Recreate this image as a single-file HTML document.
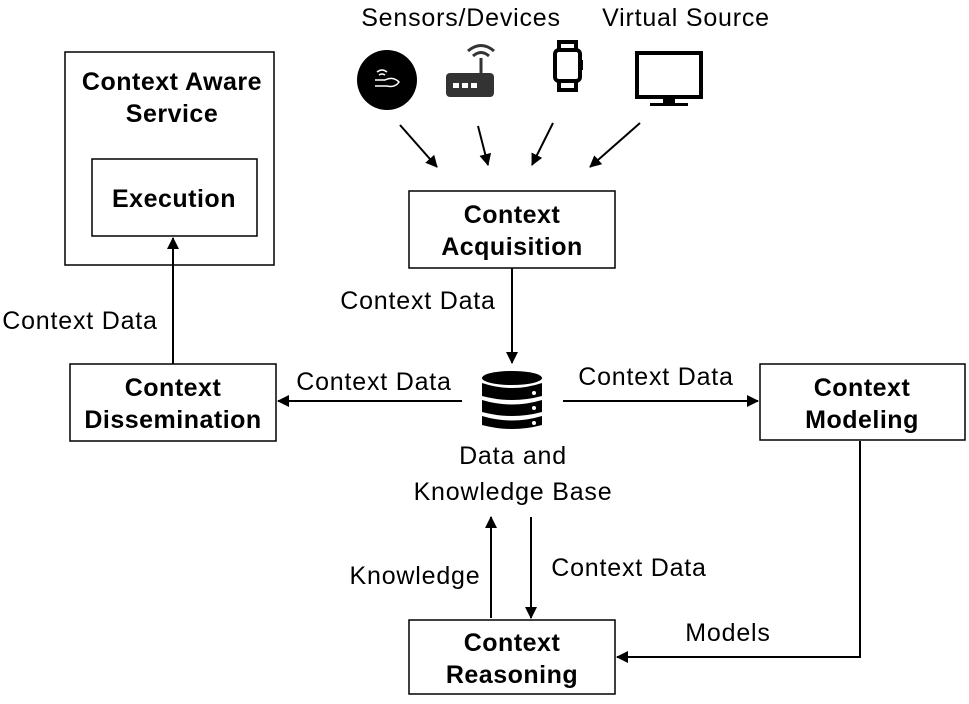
<!DOCTYPE html>
<html><head><meta charset="utf-8"><style>
html,body{margin:0;padding:0;background:#fff;}
svg text{font-family:"Liberation Sans",Arial,sans-serif;fill:#000;}
.b{font-weight:bold;font-size:25px;letter-spacing:0.5px;}
.n{font-size:25px;letter-spacing:0.8px;}
</style></head><body>
<svg width="969" height="699" viewBox="0 0 969 699" xmlns="http://www.w3.org/2000/svg">
<defs><marker id="a" markerWidth="12" markerHeight="12" refX="11" refY="6" orient="auto" markerUnits="userSpaceOnUse"><path d="M0,0 L12,6 L0,12 Z" fill="#000"/></marker></defs>
<g fill="none" stroke="#000" stroke-width="1.5">
<rect x="65" y="52" width="209" height="213"/>
<rect x="92" y="159" width="165" height="77"/>
<rect x="409" y="191" width="206" height="77"/>
<rect x="70" y="364" width="206" height="77"/>
<rect x="760" y="364" width="205" height="76"/>
<rect x="409" y="620" width="206" height="74"/>
</g>
<g stroke="#000" stroke-width="2" fill="none" marker-end="url(#a)">
<line x1="400" y1="125" x2="437" y2="167"/>
<line x1="478" y1="126" x2="488" y2="165"/>
<line x1="553" y1="123" x2="532" y2="165"/>
<line x1="640" y1="123" x2="590" y2="167"/>
<line x1="512" y1="268" x2="512" y2="363"/>
<line x1="462" y1="401" x2="278" y2="401"/>
<line x1="563" y1="401" x2="758" y2="401"/>
<line x1="173" y1="364" x2="173" y2="238"/>
<line x1="491" y1="618" x2="491" y2="517"/>
<line x1="531" y1="517" x2="531" y2="618"/>
<polyline points="860,441 860,657 617,657"/>
</g>
<text class="b" x="172" y="90" text-anchor="middle">Context Aware</text>
<text class="b" x="172" y="122" text-anchor="middle">Service</text>
<text class="b" x="174" y="207" text-anchor="middle">Execution</text>
<text class="b" x="512" y="223" text-anchor="middle">Context</text>
<text class="b" x="512" y="255" text-anchor="middle">Acquisition</text>
<text class="b" x="173" y="396" text-anchor="middle">Context</text>
<text class="b" x="173" y="428" text-anchor="middle">Dissemination</text>
<text class="b" x="862" y="396" text-anchor="middle">Context</text>
<text class="b" x="862" y="428" text-anchor="middle">Modeling</text>
<text class="b" x="512" y="651" text-anchor="middle">Context</text>
<text class="b" x="512" y="683" text-anchor="middle">Reasoning</text>
<text class="n" x="461" y="26" text-anchor="middle">Sensors/Devices</text>
<text class="n" x="686" y="26" text-anchor="middle">Virtual Source</text>
<text class="n" x="80" y="329" text-anchor="middle">Context Data</text>
<text class="n" x="418" y="309" text-anchor="middle">Context Data</text>
<text class="n" x="374" y="390" text-anchor="middle">Context Data</text>
<text class="n" x="656" y="385" text-anchor="middle">Context Data</text>
<text class="n" x="513" y="464" text-anchor="middle">Data and</text>
<text class="n" x="513" y="500" text-anchor="middle">Knowledge Base</text>
<text class="n" x="415" y="584" text-anchor="middle">Knowledge</text>
<text class="n" x="629" y="576" text-anchor="middle">Context Data</text>
<text class="n" x="728" y="641" text-anchor="middle">Models</text>
<!-- icons -->
<circle cx="387" cy="80" r="30" fill="#000"/>
<g stroke="#fff" stroke-width="1.5" fill="none">
<path d="M377,72 q5,-4 10,0 M379,75 q3,-2 6,0"/>
<path d="M375,80 h10 q8,-4 14,2 q-4,6 -12,4 h-12"/>
</g>
<rect x="446" y="73" width="48" height="24" rx="4" fill="#333"/>
<line x1="481" y1="73" x2="481" y2="58" stroke="#333" stroke-width="3"/>
<path d="M473,56 q8,-7 16,0 M468,51 q13,-11 26,0" stroke="#333" stroke-width="3" fill="none"/>
<rect x="453" y="83" width="6" height="5" fill="#fff"/><rect x="462" y="83" width="6" height="5" fill="#fff"/><rect x="471" y="83" width="6" height="5" fill="#fff"/>
<g stroke="#000" stroke-width="4" fill="none">
<rect x="555" y="50" width="25" height="31" rx="4"/>
<path d="M559,50 v-8 h17 v8 M559,81 v9 h17 v-9"/>
</g>
<rect x="580" y="60" width="3" height="10" fill="#000"/>
<rect x="637" y="53" width="64" height="44" fill="none" stroke="#000" stroke-width="4"/>
<rect x="663" y="97" width="12" height="6" fill="#000"/>
<rect x="650" y="103" width="38" height="3" fill="#000"/>
<!-- database -->
<g fill="#000">
<ellipse cx="512" cy="378" rx="30" ry="7"/>
<path d="M482,383 q30,10 60,0 v13 q-30,8 -60,0 z"/>
<path d="M482,400 q30,9 60,0 v12 q-30,8 -60,0 z"/>
<path d="M482,416 q30,9 60,0 v9 q-30,8 -60,0 z"/>
</g>
<circle cx="534" cy="393" r="2" fill="#fff"/><circle cx="534" cy="408" r="2" fill="#fff"/><circle cx="534" cy="423" r="2" fill="#fff"/>
</svg>
</body></html>
